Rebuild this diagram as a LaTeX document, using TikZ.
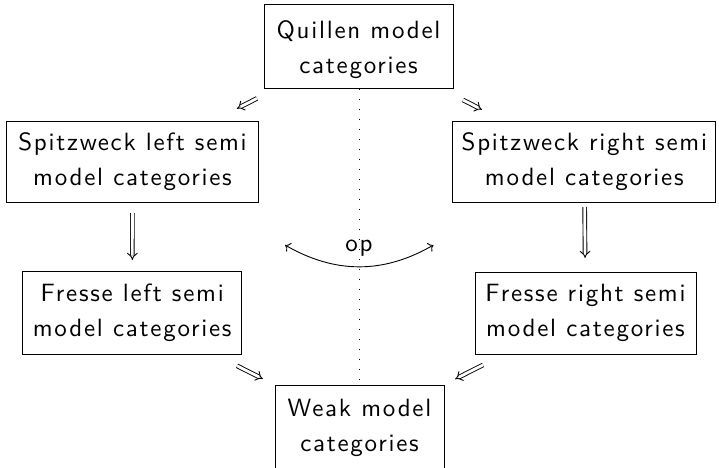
\documentclass[tikz,border=0pt]{standalone}
\usepackage{fontspec}
\newfontfamily\boxfont{lmsans10-regular.otf}[LetterSpace=7]
\usetikzlibrary{arrows.meta,calc}

\begin{document}
\begin{tikzpicture}[x=1pt,y=-1pt,
  labelfont/.style={font=\boxfont\fontsize{25}{35}\selectfont},
  catbox/.style={draw, line width=1pt, align=center, labelfont, inner sep=0pt},
  implies/.style={double, double distance=2.8pt, line width=0.9pt, -{Implies}},
  oparrow/.style={line width=0.9pt, {Computer Modern Rightarrow[length=5pt,width=10pt]}-{Computer Modern Rightarrow[length=5pt,width=10pt]}},
  sep/.style={line width=0.9pt, dash pattern=on 1pt off 9pt}]
\useasboundingbox (0,0) rectangle (719,467);

% the six classes of model categories
\node[catbox, minimum width=189pt, minimum height=83.6pt] (Q) at (358.5,46.5) {\rule{0pt}{25pt}Quillen model\\categories};
\node[catbox, minimum width=251.6pt, minimum height=81.7pt] (SL) at (132.5,162) {Spitzweck left semi\\model categories};
\node[catbox, minimum width=263pt, minimum height=81.7pt] (SR) at (584.3,162) {Spitzweck right semi\\model categories};
\node[catbox, minimum width=219pt, minimum height=82.6pt] (FL) at (132.2,313) {Fresse left semi\\model categories};
\node[catbox, minimum width=221pt, minimum height=82pt] (FR) at (585.5,313) {Fresse right semi\\model categories};
\node[catbox, minimum width=169pt, minimum height=85pt] (W) at (359.5,427.5) {\rule{0pt}{18.5pt}Weak model\\categories};

% the symmetry axis and the duality
\draw[sep] (Q.south -| 359.5,0) -- (W.north);
\coordinate (opL) at (285,245);
\coordinate (opR) at (433.5,245);
\draw[oparrow] (opL) to[bend right=30] (opR);
\node[labelfont, anchor=base, inner sep=0pt] (op) at (359,251.5) {op};

% implications
\draw[implies] ($(Q)!0.449!(SL)$) -- ($(Q)!0.538!(SL)$);
\draw[implies] ($(Q)!0.463!(SR)$) -- ($(Q)!0.547!(SR)$);
\draw[implies] ($(SL)!0.338!(FL)$) -- ($(SL)!0.649!(FL)$);
\draw[implies] ($(SR)!0.298!(FR)$) -- ($(SR)!0.636!(FR)$);
\draw[implies] ($(FL)!0.461!(W)$) -- ($(FL)!0.575!(W)$);
\draw[implies] ($(FR)!0.4535!(W)$) -- ($(FR)!0.577!(W)$);
\end{tikzpicture}
\end{document}
